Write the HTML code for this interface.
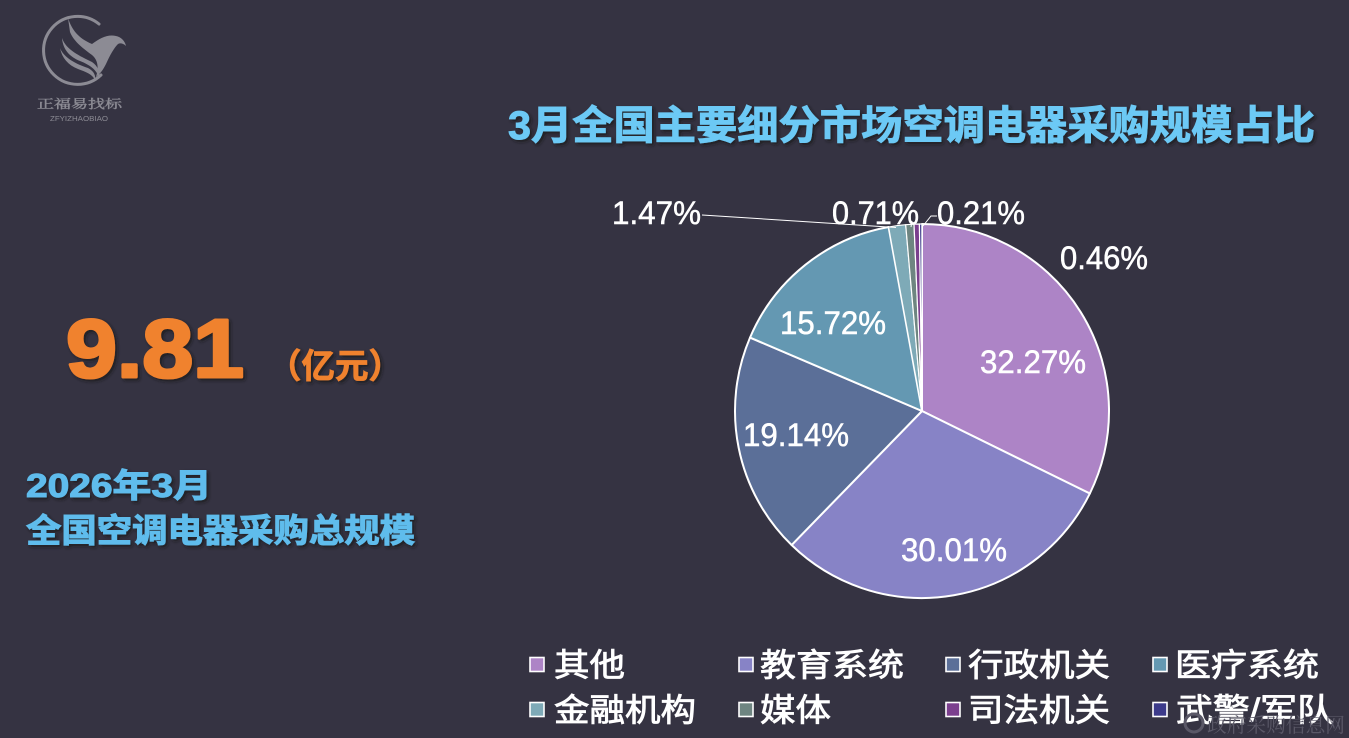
<!DOCTYPE html>
<html><head><meta charset="utf-8"><style>
html,body{margin:0;padding:0;background:#353342;}
svg{display:block;}
</style></head><body>
<svg width="1349" height="738" viewBox="0 0 1349 738" xmlns="http://www.w3.org/2000/svg">
<defs>
<filter id="sh" x="-5%" y="-20%" width="110%" height="150%"><feDropShadow dx="2" dy="2" stdDeviation="1.5" flood-color="#15131c" flood-opacity="0.8"/></filter>
</defs>
<rect width="1349" height="738" fill="#353342"/>

<!-- logo -->
<g fill="none" stroke="#8c8b94" stroke-width="3" stroke-linecap="round">
<path d="M99,24 A34,34 0 1 0 101,75"/>
</g>
<g fill="#8c8b94">
<path d="M68,18 C72,30 78,38 92,44 C100,38 108,34 116,36 C121,37 125,41 126,46 C123,43 120,43 118,44 C114,48 110,55 106,64 C103,70 100,74 96,77 C99,68 98,60 92,55 C84,49 74,42 70,32 Z"/>
<path d="M62,38 C66,50 80,56 92,62 C98,66 100,72 99,78 C97,70 90,65 80,61 C70,57 63,50 62,38 Z"/>
<path d="M60,48 C64,58 76,64 88,68 C94,71 96,76 95,80 C92,74 86,72 78,69 C68,65 62,58 60,48 Z"/>
</g>
<text x="37" y="108" font-family="'Liberation Serif','Noto Serif CJK SC',serif" font-size="12" fill="#8c8b94" stroke="#8c8b94" stroke-width="0.4" textLength="85" lengthAdjust="spacingAndGlyphs">正福易找标</text>
<text x="50" y="121" font-family="'Liberation Sans',sans-serif" font-size="7" fill="#8c8b94" textLength="58" lengthAdjust="spacingAndGlyphs">ZFYIZHAOBIAO</text>

<!-- title -->
<text x="508" y="139" font-family="'Liberation Sans','Noto Sans CJK SC',sans-serif" font-weight="bold" font-size="40" fill="#6cc9f5" stroke="#6cc9f5" stroke-width="0.9" textLength="807" lengthAdjust="spacingAndGlyphs" filter="url(#sh)">3月全国主要细分市场空调电器采购规模占比</text>

<!-- left big number -->
<text x="66" y="377" font-family="'Liberation Sans',sans-serif" font-weight="bold" font-size="83" fill="#f0822e" stroke="#f0822e" stroke-width="3" stroke-linejoin="round" textLength="178" lengthAdjust="spacingAndGlyphs" filter="url(#sh)">9.81</text>
<text x="268" y="378" font-family="'Liberation Sans','Noto Sans CJK SC',sans-serif" font-weight="bold" font-size="34" fill="#f0822e" stroke="#f0822e" stroke-width="0.8" textLength="134" lengthAdjust="spacingAndGlyphs" filter="url(#sh)">（亿元）</text>

<text x="26" y="497" font-family="'Liberation Sans','Noto Sans CJK SC',sans-serif" font-weight="bold" font-size="33" fill="#5fbcec" stroke="#5fbcec" stroke-width="1" textLength="186" lengthAdjust="spacingAndGlyphs" filter="url(#sh)">2026年3月</text>
<text x="26" y="542" font-family="'Liberation Sans','Noto Sans CJK SC',sans-serif" font-weight="bold" font-size="33" fill="#5fbcec" stroke="#5fbcec" stroke-width="1" textLength="389" lengthAdjust="spacingAndGlyphs" filter="url(#sh)">全国空调电器采购总规模</text>

<!-- pie -->
<g stroke="#ffffff" stroke-width="2" stroke-linejoin="round">
<path d="M922,411 L922,224 A187,187 0 0 1 1089.81,493.52 Z" fill="#ad84c6"/>
<path d="M922,411 L1089.81,493.52 A187,187 0 0 1 791.59,545.02 Z" fill="#8783c6"/>
<path d="M922,411 L791.59,545.02 A187,187 0 0 1 750.01,337.60 Z" fill="#5b6f98"/>
<path d="M922,411 L750.01,337.60 A187,187 0 0 1 888.58,227.01 Z" fill="#6498b2"/>
</g>
<g stroke="#ffffff" stroke-width="1.2" stroke-linejoin="round">
<path d="M922,411 L888.58,227.01 A187,187 0 0 1 905.69,224.71 Z" fill="#7eaab7"/>
<path d="M922,411 L905.69,224.71 A187,187 0 0 1 914.01,224.17 Z" fill="#6e8581"/>
<path d="M922,411 L914.01,224.17 A187,187 0 0 1 919.42,224.02 Z" fill="#7b3f8e"/>
<path d="M922,411 L919.42,224.02 A187,187 0 0 1 921.88,224.0 Z" fill="#3c3a8a"/>
</g>
<!-- leader lines -->
<g stroke="#ffffff" stroke-width="1" fill="none">
<polyline points="702,215 896,227.5"/>
<polyline points="923,226 931,216 937,216"/>
<polyline points="912,221 911,227"/>
</g>

<g font-family="'Liberation Sans',sans-serif" font-size="32" fill="#ffffff" stroke="#ffffff" stroke-width="0.5">
<text x="612" y="224" textLength="89" lengthAdjust="spacingAndGlyphs">1.47%</text>
<text x="832" y="224" textLength="87" lengthAdjust="spacingAndGlyphs">0.71%</text>
<text x="937" y="224" textLength="88" lengthAdjust="spacingAndGlyphs">0.21%</text>
<text x="1060" y="269" textLength="88" lengthAdjust="spacingAndGlyphs">0.46%</text>
<text x="980" y="373" textLength="106" lengthAdjust="spacingAndGlyphs">32.27%</text>
<text x="780" y="334" textLength="106" lengthAdjust="spacingAndGlyphs">15.72%</text>
<text x="743" y="446" textLength="106" lengthAdjust="spacingAndGlyphs">19.14%</text>
<text x="901" y="561" textLength="106" lengthAdjust="spacingAndGlyphs">30.01%</text>
</g>

<!-- legend -->
<g stroke="#ffffff" stroke-width="1.6">
<rect x="530" y="657.5" width="14" height="14" fill="#ad84c6"/>
<rect x="739" y="657.5" width="14" height="14" fill="#8783c6"/>
<rect x="946" y="657.5" width="14" height="14" fill="#5b6f98"/>
<rect x="1153" y="657.5" width="14" height="14" fill="#6498b2"/>
<rect x="530" y="702.5" width="14" height="14" fill="#7eaab7"/>
<rect x="739" y="702.5" width="14" height="14" fill="#6e8581"/>
<rect x="946" y="702.5" width="14" height="14" fill="#7b3f8e"/>
<rect x="1153" y="702.5" width="14" height="14" fill="#3c3a8a"/>
</g>
<g font-family="'Liberation Sans','Noto Sans CJK SC',sans-serif" font-size="32" fill="#ffffff" stroke="#ffffff" stroke-width="0.8">
<text x="554" y="676" textLength="71" lengthAdjust="spacingAndGlyphs">其他</text>
<text x="760" y="676" textLength="144" lengthAdjust="spacingAndGlyphs">教育系统</text>
<text x="968" y="676" textLength="142" lengthAdjust="spacingAndGlyphs">行政机关</text>
<text x="1175" y="676" textLength="144" lengthAdjust="spacingAndGlyphs">医疗系统</text>
<text x="554" y="721" textLength="142" lengthAdjust="spacingAndGlyphs">金融机构</text>
<text x="760" y="721" textLength="71" lengthAdjust="spacingAndGlyphs">媒体</text>
<text x="968" y="721" textLength="142" lengthAdjust="spacingAndGlyphs">司法机关</text>
<text x="1176" y="721" textLength="158" lengthAdjust="spacingAndGlyphs">武警/军队</text>
</g>

<!-- watermark -->
<circle cx="1194" cy="723" r="9" fill="none" stroke="#5a5867" stroke-width="3"/>
<text x="1207" y="732" font-family="'Liberation Serif','Noto Serif CJK SC',serif" font-size="20" fill="#5a5867" textLength="138" lengthAdjust="spacingAndGlyphs">政府采购信息网</text>
</svg>
</body></html>
